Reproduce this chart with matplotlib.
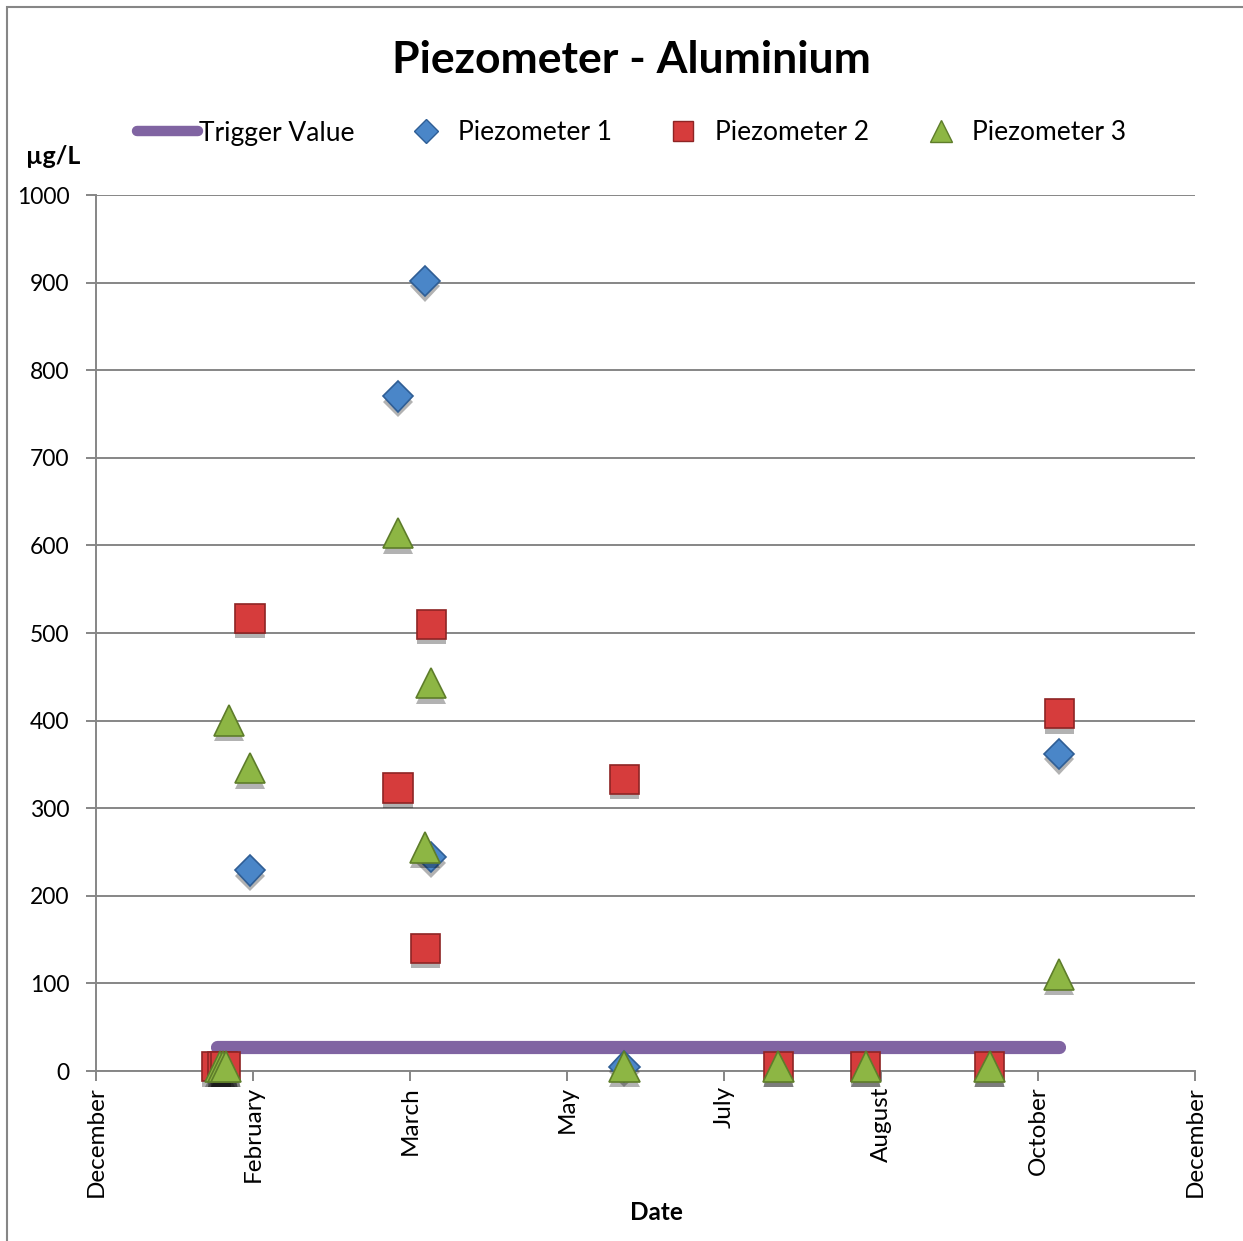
import matplotlib
matplotlib.use("Agg")
import matplotlib.pyplot as plt
import matplotlib.patheffects as pe
from matplotlib.lines import Line2D
from matplotlib.patches import Rectangle
import numpy as np

plt.rcParams['font.family'] = ['Lato', 'DejaVu Sans']

# ---------------- data ----------------
axis_start = np.datetime64('2010-12-13')
tick_step_days = 52
tick_labels = ['December', 'February', 'March', 'May', 'July', 'August', 'October', 'December']

trigger_dates = ['2011-01-22', '2011-10-28']
trigger_vals = [27, 27]

p1_dates = ['2011-02-02', '2011-03-23', '2011-04-01', '2011-04-03', '2011-06-06', '2011-10-28']
p1_vals = [229, 770, 902, 244, 5, 362]

p2_dates = ['2011-01-22', '2011-01-24', '2011-01-25', '2011-02-02', '2011-03-23', '2011-04-01',
            '2011-04-03', '2011-06-06', '2011-07-27', '2011-08-25', '2011-10-05', '2011-10-28']
p2_vals = [5, 5, 5, 517, 323, 140, 510, 333, 5, 5, 5, 408]

p3_dates = ['2011-01-23', '2011-01-24', '2011-01-25', '2011-01-26', '2011-02-02', '2011-03-23',
            '2011-04-01', '2011-04-03', '2011-06-06', '2011-07-27', '2011-08-25', '2011-10-05',
            '2011-10-28']
p3_vals = [5, 5, 5, 400, 346, 614, 255, 443, 5, 5, 5, 5, 110]

y_ticks = list(range(0, 1001, 100))

# ---------------- figure ----------------
W, H = 1243, 1241
fig = plt.figure(figsize=(W / 100, H / 100), dpi=100)
fig.patch.set_facecolor('white')

# chart-area border
fig.patches.append(Rectangle((7 / W, -0.02), 1.2, 1 - 7 / H + 0.02, transform=fig.transFigure,
                             fill=False, edgecolor='#868686', linewidth=1.5))

ax = fig.add_axes([96 / W, 170 / H, 1099 / W, 876 / H])

to_dt = lambda lst: np.array(lst, dtype='datetime64[D]')

shadow = [pe.SimplePatchShadow(offset=(0, -4), shadow_rgbFace='black', alpha=0.3), pe.Normal()]

styles = {
    'p1': dict(marker='D', markerfacecolor='#4A86C8', markeredgecolor='#2F5E95'),
    'p2': dict(marker='s', markerfacecolor='#D63C3C', markeredgecolor='#8E2424'),
    'p3': dict(marker='^', markerfacecolor='#8DB644', markeredgecolor='#5E7D2A'),
}

ax.plot(to_dt(trigger_dates), trigger_vals, color='#8064A2', linewidth=9.5,
        solid_capstyle='round', zorder=3)
ax.plot(to_dt(p1_dates), p1_vals, linestyle='none', markersize=15.5, markeredgewidth=1.2,
        zorder=4, path_effects=shadow, clip_on=False, **styles['p1'])
ax.plot(to_dt(p2_dates), p2_vals, linestyle='none', markersize=21, markeredgewidth=1.2,
        zorder=5, path_effects=shadow, clip_on=False, **styles['p2'])
ax.plot(to_dt(p3_dates), p3_vals, linestyle='none', markersize=22, markeredgewidth=1.2,
        zorder=6, path_effects=shadow, clip_on=False, **styles['p3'])

# axes limits / ticks
tick_pos = [axis_start + np.timedelta64(tick_step_days * k, 'D') for k in range(len(tick_labels))]
ax.set_xlim(tick_pos[0], tick_pos[-1])
ax.set_xticks(tick_pos)
ax.set_xticklabels(tick_labels, rotation=90, fontsize=17.5)
ax.set_ylim(0, 1000)
ax.set_yticks(y_ticks)
ax.set_yticklabels([str(v) for v in y_ticks], fontsize=16.5)

ax.grid(axis='y', color='#868686', linewidth=1.4)
ax.set_axisbelow(True)
for s in ['top', 'right']:
    ax.spines[s].set_visible(False)
for s in ['left', 'bottom']:
    ax.spines[s].set_color('#868686')
    ax.spines[s].set_linewidth(1.4)
ax.tick_params(axis='both', direction='out', length=7, width=1.4, color='#868686')
ax.tick_params(axis='x', pad=4)
ax.tick_params(axis='y', pad=12)

# texts
fig.text(631 / W, 1 - 60 / H, 'Piezometer - Aluminium', ha='center', va='center',
         fontsize=32, fontweight='bold')
fig.text(53 / W, 1 - 156 / H, 'µg/L', ha='center', va='center', fontsize=18, fontweight='bold')
fig.text(656 / W, 1 - 1213 / H, 'Date', ha='center', va='center', fontsize=17.5, fontweight='bold')

# legend proxies (smaller markers as in the legend of the reference)
h_tr = Line2D([], [], color='#8064A2', linewidth=7.5, solid_capstyle='round', label='Trigger Value')
h1 = Line2D([], [], linestyle='none', markersize=12, markeredgewidth=1.0, label='Piezometer 1', **styles['p1'])
h2 = Line2D([], [], linestyle='none', markersize=15, markeredgewidth=1.0, label='Piezometer 2', **styles['p2'])
h3 = Line2D([], [], linestyle='none', markersize=16, markeredgewidth=1.0, label='Piezometer 3', **styles['p3'])

leg = fig.legend(handles=[h_tr, h1, h2, h3], loc='center left', bbox_to_anchor=(137 / W, 1 - 133 / H),
                 ncol=4, frameon=False, fontsize=19, handlelength=2.3, handletextpad=0.06,
                 columnspacing=1.55, borderaxespad=0, borderpad=0)

fig.savefig('out.png', dpi=100, facecolor='white')
